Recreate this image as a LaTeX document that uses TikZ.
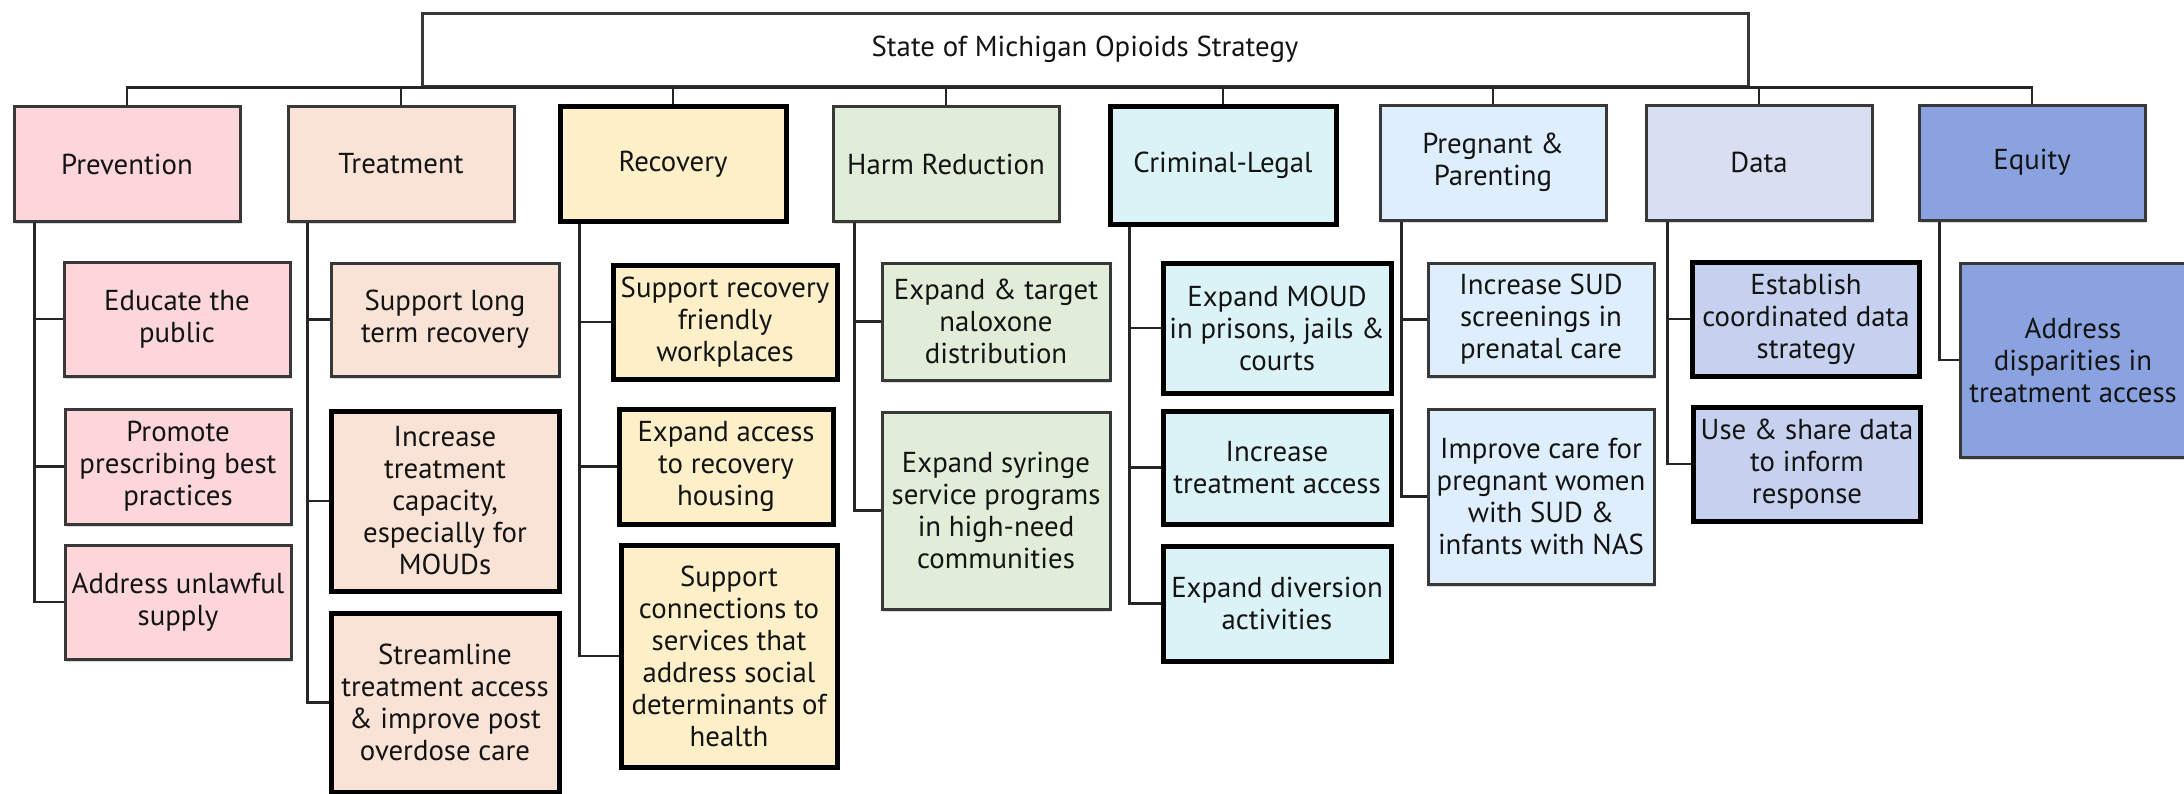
\documentclass[tikz,border=0pt]{standalone}
\usepackage{fontspec}
\setmainfont{PT Sans}
\usetikzlibrary{shadows}

% pillar colours
\definecolor{prevfill}{HTML}{FCD6DB}
\definecolor{treatfill}{HTML}{F9E3D6}
\definecolor{recovfill}{HTML}{FDF0C9}
\definecolor{harmfill}{HTML}{E2EDD9}
\definecolor{crimfill}{HTML}{DBF3F7}
\definecolor{pregfill}{HTML}{DEEEFC}
\definecolor{datafill}{HTML}{D9DEF1}
\definecolor{datasub}{HTML}{C6D1EF}
\definecolor{eqfill}{HTML}{8AA2DF}

\tikzset{
	box/.style={rectangle, draw=black!78, line width=0.3mm, fill=white, text=black!92,
		align=center, inner sep=0pt, font=\fontsize{8.2}{9.1}\selectfont,
		minimum width=22.6mm, minimum height=11.5mm,
		drop shadow={shadow xshift=0.1mm, shadow yshift=-0.25mm, opacity=0.3}},
	heavy/.style={box, draw=black, line width=0.5mm},
	link/.style={line width=0.25mm, draw=black!85},
}

\begin{document}
\begin{tikzpicture}[x=0.1mm, y=-0.1mm]
	\useasboundingbox (0,0) rectangle (2184,793);

	% top of the tree
	\node[box, minimum width=132.6mm, minimum height=7.3mm, drop shadow={opacity=0}] (strategy) at (1085, 49.5) {State of Michigan Opioids Strategy};

	% the eight pillars
	\node[box, fill=prevfill] (prev) at (127, 164) {Prevention};
	\node[box, fill=treatfill] (treat) at (401, 164) {Treatment};
	\node[heavy, fill=recovfill] (recov) at (673, 164) {Recovery};
	\node[box, fill=harmfill] (harm) at (946, 164) {Harm Reduction};
	\node[heavy, fill=crimfill, minimum height=11.8mm] (crim) at (1223, 165) {Criminal-Legal};
	\node[box, fill=pregfill] (preg) at (1493, 162.5) {Pregnant \&\\Parenting};
	\node[box, fill=datafill] (data) at (1759, 162.5) {Data};
	\node[box, fill=eqfill] (equity) at (2032, 162.5) {Equity};

	% Prevention
	\node[box, fill=prevfill, minimum height=11.4mm] (prev1) at (177, 319) {Educate the\\public};
	\node[box, fill=prevfill] (prev2) at (178, 466.5) {Promote\\prescribing best\\practices};
	\node[box, fill=prevfill, minimum height=11.4mm] (prev3) at (178, 602) {Address unlawful\\supply};

	% Treatment
	\node[box, fill=treatfill, minimum width=22.8mm, minimum height=11.3mm] (treat1) at (445, 319.5) {Support long\\term recovery};
	\node[heavy, fill=treatfill, minimum width=22.8mm, minimum height=18mm] (treat2) at (445, 501) {Increase\\treatment\\capacity,\\especially for\\MOUDs};
	\node[heavy, fill=treatfill, minimum width=22.8mm, minimum height=17.9mm] (treat3) at (445, 702.5) {Streamline\\treatment access\\\& improve post\\overdose care};

	% Recovery
	\node[heavy, fill=recovfill, minimum width=22.4mm, minimum height=11.4mm] (recov1) at (725, 322) {Support recovery\\friendly\\workplaces};
	\node[heavy, fill=recovfill, minimum width=21.4mm] (recov2) at (726, 466.5) {Expand access\\to recovery\\housing};
	\node[heavy, fill=recovfill, minimum width=21.6mm, minimum height=22.2mm] (recov3) at (729, 656) {Support\\connections to\\services that\\address social\\determinants of\\health};

	% Harm Reduction
	\node[box, fill=harmfill, minimum width=22.8mm, minimum height=11.7mm] (harm1) at (996, 321.5) {Expand \& target\\naloxone\\distribution};
	\node[box, fill=harmfill, minimum width=22.8mm, minimum height=19.7mm] (harm2) at (996, 510.5) {Expand syringe\\service programs\\in high-need\\communities};

	% Criminal-Legal
	\node[heavy, fill=crimfill, minimum width=22.8mm, minimum height=13mm] (crim1) at (1277, 328) {Expand MOUD\\in prisons, jails \&\\courts};
	\node[heavy, fill=crimfill, minimum width=22.8mm, minimum height=11.3mm] (crim2) at (1277, 467.5) {Increase\\treatment access};
	\node[heavy, fill=crimfill, minimum width=22.8mm] (crim3) at (1277, 603.5) {Expand diversion\\activities};

	% Pregnant & Parenting
	\node[box, fill=pregfill, minimum height=11.3mm] (preg1) at (1541, 319.5) {Increase SUD\\screenings in\\prenatal care};
	\node[box, fill=pregfill, minimum height=17.5mm] (preg2) at (1541, 496.5) {Improve care for\\pregnant women\\with SUD \&\\infants with NAS};

	% Data
	\node[heavy, fill=datasub, minimum width=22.7mm, minimum height=11.4mm] (data1) at (1806, 319) {Establish\\coordinated data\\strategy};
	\node[heavy, fill=datasub, minimum width=22.7mm, minimum height=11.4mm] (data2) at (1807, 464) {Use \& share data\\to inform\\response};

	% Equity
	\node[box, fill=eqfill, minimum height=19.4mm] (eq1) at (2073, 360) {Address\\disparities in\\treatment access};

	% strategy to pillars
	\draw[link] (strategy.south) -| (prev.north);
	\draw[link] (strategy.south) -| (treat.north);
	\draw[link] (strategy.south) -| (recov.north);
	\draw[link] (strategy.south) -| (harm.north);
	\draw[link] (strategy.south) -| (crim.north);
	\draw[link] (strategy.south) -| (preg.north);
	\draw[link] (strategy.south) -| (data.north);
	\draw[link] (strategy.south) -| (equity.north);

	% pillars to actions
	\draw[link] (prev.south west) ++(22,0) |- (prev1.west);
	\draw[link] (prev.south west) ++(22,0) |- (prev2.west);
	\draw[link] (prev.south west) ++(22,0) |- (prev3.west);
	\draw[link] (treat.south west) ++(21,0) |- (treat1.west);
	\draw[link] (treat.south west) ++(21,0) |- (treat2.west);
	\draw[link] (treat.south west) ++(21,0) |- (treat3.west);
	\draw[link] (recov.south west) ++(22,0) |- (recov1.west);
	\draw[link] (recov.south west) ++(22,0) |- (recov2.west);
	\draw[link] (recov.south west) ++(22,0) |- (recov3.west);
	\draw[link] (harm.south west) ++(23,0) |- (harm1.west);
	\draw[link] (harm.south west) ++(23,0) |- (harm2.west);
	\draw[link] (crim.south west) ++(22,0) |- (crim1.west);
	\draw[link] (crim.south west) ++(22,0) |- (crim2.west);
	\draw[link] (crim.south west) ++(22,0) |- (crim3.west);
	\draw[link] (preg.south west) ++(23,0) |- (preg1.west);
	\draw[link] (preg.south west) ++(23,0) |- (preg2.west);
	\draw[link] (data.south west) ++(23,0) |- (data1.west);
	\draw[link] (data.south west) ++(23,0) |- (data2.west);
	\draw[link] (equity.south west) ++(22,0) |- (eq1.west);
\end{tikzpicture}
\end{document}
